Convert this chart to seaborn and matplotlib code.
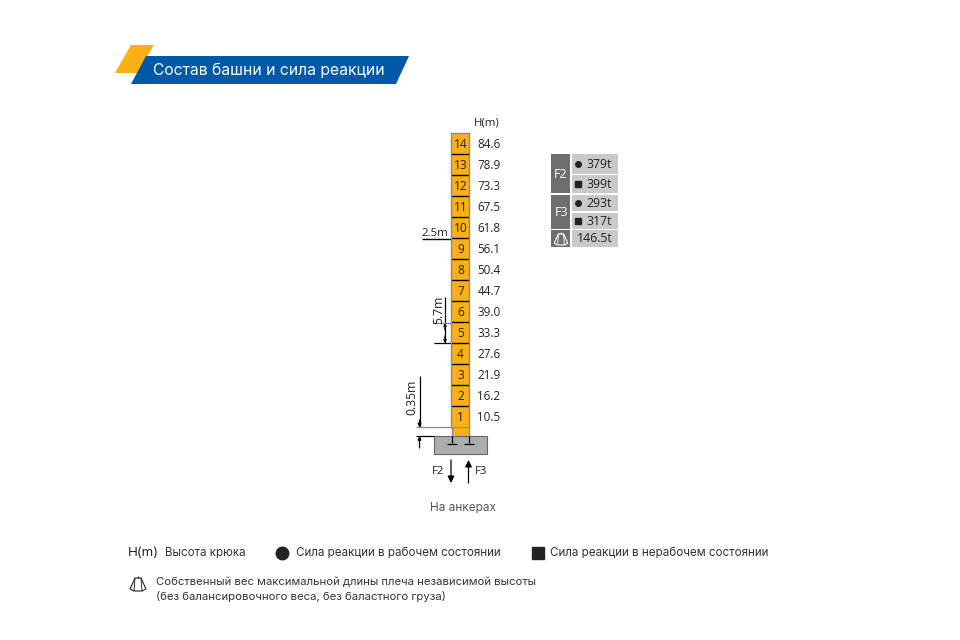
import matplotlib
matplotlib.use('Agg')
import matplotlib.pyplot as plt
import seaborn as sns
from matplotlib.patches import Polygon, Rectangle
from matplotlib.transforms import blended_transform_factory

# tower data
sections = ['14', '13', '12', '11', '10', '9', '8', '7', '6', '5', '4', '3', '2', '1']
heights = [84.6, 78.9, 73.3, 67.5, 61.8, 56.1, 50.4, 44.7, 39.0, 33.3, 27.6, 21.9, 16.2, 10.5]
section_len = [5.7] * 14

# reaction table
f_labels = ['F2', 'F3']
f2_values = ['379t', '399t']
f3_values = ['293t', '317t']
weight_value = '146.5t'

title = 'Состав башни и сила реакции'
caption = 'На анкерах'
legend_hook = 'Высота крюка'
legend_work = 'Сила реакции в рабочем состоянии'
legend_rest = 'Сила реакции в нерабочем состоянии'
legend_weight = ['Собственный вес максимальной длины плеча независимой высоты',
                 '(без балансировочного веса, без баластного груза)']

ORANGE = '#fdb015'
BLUE = '#0059a8'
DARK = '#6d6e71'
CELL = '#c9c9cb'
INK = '#222222'
GREY = '#8a8a8a'

sns.set_theme(style='white')
plt.rcParams['font.family'] = ['Open Sans', 'DejaVu Sans']

fig = plt.figure(figsize=(9.6, 6.4), dpi=100)

# whole figure axes in pixels for the drawing around the tower
bg = fig.add_axes([0, 0, 1, 1])
bg.set_xlim(0, 960)
bg.set_ylim(640, 0)
bg.axis('off')


def line(x, y, color='black', lw=0.9, z=3):
    bg.plot(x, y, color=color, lw=lw, solid_capstyle='butt', zorder=z)


def arrow(x, y0, y1, size=7):
    bg.annotate('', xy=(x, y1), xytext=(x, y0),
                arrowprops=dict(arrowstyle='-|>', color='black', lw=0.9,
                                mutation_scale=size, shrinkA=0, shrinkB=0))


def tent(cx, cy, color, lw=0.8, k=1.0):
    # little counterweight icon
    bg.add_patch(Polygon([(cx - 3 * k, cy - 6 * k), (cx + 3 * k, cy - 6 * k), (cx + 8 * k, cy + 5 * k),
                          (cx + 4 * k, cy + 7 * k), (cx - 4 * k, cy + 7 * k), (cx - 8 * k, cy + 5 * k)],
                         closed=True, fill=False, ec=color, lw=lw, zorder=5))
    line([cx - 3 * k, cx - 4 * k], [cy - 6 * k, cy + 7 * k], color, lw * 0.8, 5)
    line([cx + 3 * k, cx + 4 * k], [cy - 6 * k, cy + 7 * k], color, lw * 0.8, 5)
    line([cx, cx], [cy - 8 * k, cy - 6 * k], color, lw, 5)


# header banner
bg.add_patch(Polygon([(131, 45), (154, 45), (137, 73), (115, 73)], color=ORANGE, lw=0, zorder=1))
bg.add_patch(Polygon([(146, 56), (409, 56), (396, 84), (131, 84)], color=BLUE, lw=0, zorder=2))
bg.text(153, 70, title, color='white', fontsize=11.3, family=['Inter', 'DejaVu Sans'], va='center', zorder=3)

# tower sections, the black joints are drawn after the bars
tower = fig.add_axes([451 / 960, 1 - 427 / 640, 18 / 960, 294 / 640])
sns.barplot(x=section_len, y=sections, orient='h', width=1, color=ORANGE, saturation=1,
            linewidth=0, ax=tower)
tower.set_xlim(0, 5.7)
tower.set_ylim(13.5, -0.5)
tower.set_xlabel('')
tower.set_ylabel('')
tower.set_xticks([])
tower.set_yticks([])
tower.patch.set_alpha(0)
tower.hlines([i + 0.5 for i in range(13)], 0, 5.7, color='black', lw=1.0)
for name, spine in tower.spines.items():
    spine.set_visible(name in ('left', 'right', 'top'))
    spine.set_color(GREY)
    spine.set_linewidth(1.0)
trans = blended_transform_factory(fig.transFigure, tower.transData)
for i, h in enumerate(heights):
    tower.text(460.5 / 960, i + 0.07, sections[i], transform=trans, fontsize=8.6, color=INK, ha='center', va='center')
    tower.text(489 / 960, i + 0.07, f'{h:.1f}', transform=trans, fontsize=8.4, color=INK, ha='center', va='center')
bg.text(487, 123, 'H(m)', fontsize=8.2, color=INK, ha='center', va='center')

# foot and base
bg.add_patch(Rectangle((452, 427), 17, 9, fc=ORANGE, ec='none', zorder=2))
line([452, 452], [427, 436], GREY, 1.0)
line([469, 469], [427, 436], GREY, 1.0)
line([451, 469], [427, 427], GREY, 0.9)
bg.add_patch(Rectangle((434, 436), 53, 18, fc='#abadb0', ec='#666666', lw=0.8, zorder=2))
line([447, 457], [443.5, 443.5])
line([464, 474], [443.5, 443.5])
line([452, 452], [436, 443], 'black')
line([469, 469], [436, 443], 'black')

# forces
arrow(451, 460, 483, 10)
arrow(468.5, 483, 460, 10)
bg.text(438, 471, 'F2', fontsize=8.2, color=INK, ha='center', va='center')
bg.text(481, 471, 'F3', fontsize=8.2, color=INK, ha='center', va='center')
bg.text(462.5, 508, caption, fontsize=8.5, color='#555555', family=['Inter', 'DejaVu Sans'], ha='center', va='center')

# 0.35m dimension
line([419.5, 419.5], [376, 427])
arrow(419.5, 420, 427.5, 5)
arrow(419.5, 448, 436, 5)
line([416, 452], [427, 427], GREY, 0.9)
line([416, 434], [436, 436])
bg.text(412, 397, '0.35m', fontsize=8.8, color=INK, rotation=90, ha='center', va='center')

# 5.7m dimension
line([445, 445], [297, 323])
line([445, 445], [323, 343])
arrow(445, 330, 323, 4)
arrow(445, 336, 343, 4)
line([433, 452], [323, 323], GREY, 1.0)
line([434, 451], [343, 343])
bg.text(438.5, 310, '5.7m', fontsize=8.8, color=INK, rotation=90, ha='center', va='center')

# 2.5m dimension
line([422, 469], [238.5, 238.5], 'black', 1.0, 4)
bg.text(434.5, 233, '2.5m', fontsize=8.2, color=INK, ha='center', va='center')

# reaction table
bg.add_patch(Rectangle((551, 154), 19, 39, fc=DARK, ec='none'))
bg.add_patch(Rectangle((551, 195), 19, 34, fc=DARK, ec='none'))
bg.add_patch(Rectangle((551, 230), 19, 17, fc=DARK, ec='none'))
bg.text(561, 174, f_labels[0], fontsize=9, color='white', ha='center', va='center')
bg.text(561, 212, f_labels[1], fontsize=9, color='white', ha='center', va='center')
tent(561, 239, 'white', 0.8, 0.85)

rows = [(154, 20, f2_values[0], 'o'), (175, 18, f2_values[1], 's'),
        (195, 16, f3_values[0], 'o'), (213, 16, f3_values[1], 's')]
for top, h, val, mark in rows:
    bg.add_patch(Rectangle((572, top), 46, h, fc=CELL, ec='none'))
    bg.plot([577.5], [top + h / 2], marker=mark, ms=4, color=INK, ls='none')
    bg.text(599, top + h / 2 + 0.5, val, fontsize=8.8, color=INK, ha='center', va='center')
bg.add_patch(Rectangle((572, 230), 46, 17, fc=CELL, ec='none'))
bg.text(594.5, 239, weight_value, fontsize=8.8, color=INK, ha='center', va='center')

# legend at the bottom
inter = ['Inter', 'DejaVu Sans']
bg.text(128, 553, 'H(m)', fontsize=9.6, color=INK, family=inter, va='center')
bg.text(165, 553, legend_hook, fontsize=8.3, color='#333333', family=inter, va='center')
bg.plot([282], [553], marker='o', ms=9, color=INK, ls='none')
bg.text(296, 553, legend_work, fontsize=8.4, color='#333333', family=inter, va='center')
bg.plot([538], [553], marker='s', ms=8.5, color=INK, ls='none')
bg.text(550, 553, legend_rest, fontsize=8.4, color='#333333', family=inter, va='center')
tent(138, 584, INK, 0.8)
bg.text(156, 582, legend_weight[0], fontsize=8.17, color='#333333', family=inter, va='center')
bg.text(156, 596, legend_weight[1], fontsize=8.17, color='#333333', family=inter, va='center')

fig.savefig('out.png', dpi=100)
